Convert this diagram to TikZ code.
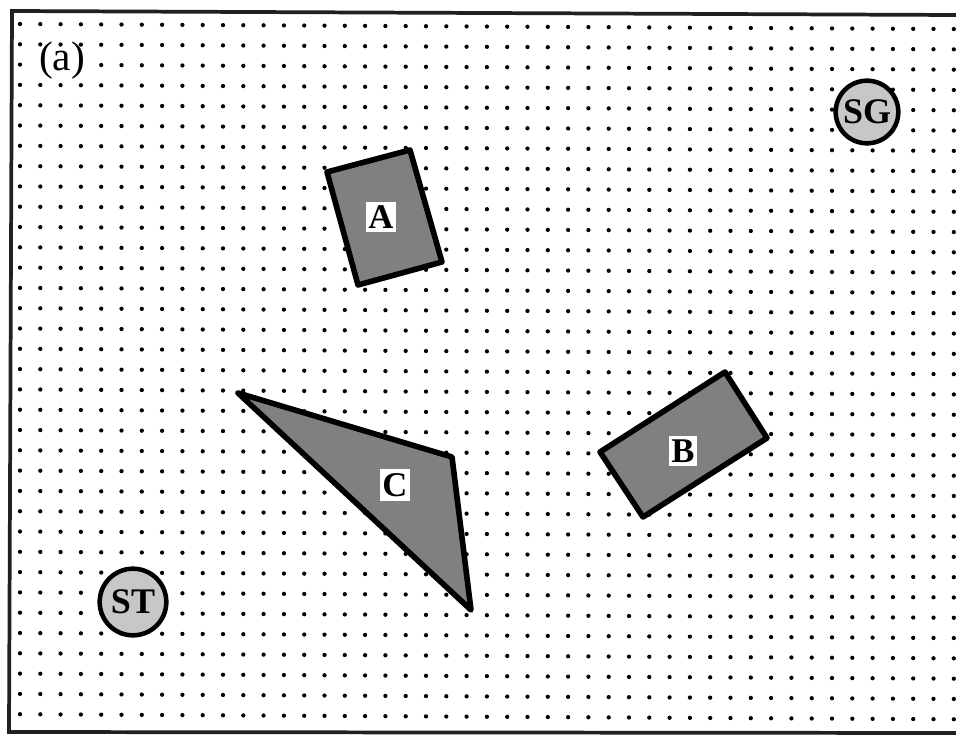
\documentclass[tikz,border=0pt]{standalone}
\usepackage{fontspec}
\setmainfont{Liberation Serif}
\begin{document}
\begin{tikzpicture}[x=0.75pt,y=-0.75pt,
  obst/.style={draw=black,line width=4.2pt,fill=black!50,line join=round},
  lbl/.style={fill=white,font=\bfseries\fontsize{26}{26}\selectfont,inner xsep=1.5pt,inner ysep=3pt},
  endpt/.style={circle,draw=black,line width=3.4pt,fill=black!22,inner sep=0pt,font=\bfseries\fontsize{27}{27}\selectfont},
  frame/.style={line width=2.8pt,draw=gray!25!black}]
\useasboundingbox (0,0) rectangle (956,735);
\fill[white] (0,0) rectangle (956,735);
% dot grid
\foreach \i in {0,...,46}{
  \foreach \j in {0,...,34}{
    \fill ({20+20.3*\i},{24+20.3*\j+0.11*\i}) circle (1.6pt);
  }
}
% frame
\coordinate (ftr) at (956,15);
\coordinate (ftl) at (12,11);
\coordinate (fbl) at (9,732);
\coordinate (fbr) at (956,733);
\draw[frame] (ftr) -- (ftl) -- (fbl) -- (fbr);
% obstacle A
\coordinate (a1) at (327,172);
\coordinate (a2) at (410,150);
\coordinate (a3) at (442,262);
\coordinate (a4) at (358,285);
\draw[obst] (a1) -- (a2) -- (a3) -- (a4) -- cycle;
\node[lbl] (A) at (381,217) {A};
% obstacle B
\coordinate (b1) at (600,452);
\coordinate (b2) at (725,372);
\coordinate (b3) at (767,438);
\coordinate (b4) at (643,517);
\draw[obst] (b1) -- (b2) -- (b3) -- (b4) -- cycle;
\node[lbl] (B) at (683,451) {B};
% obstacle C
\coordinate (c1) at (238,393);
\coordinate (c2) at (452,457);
\coordinate (c3) at (471,610);
\draw[obst] (c1) -- (c2) -- (c3) -- cycle;
\node[lbl] (C) at (395,485) {C};
% start and goal
\node[endpt,minimum size=47pt] (SG) at (867,112) {SG};
\node[endpt,minimum size=50pt] (ST) at (133,602) {ST};
% label
\fill[white] (34,51) rectangle (92,74);
\node[font=\fontsize{31}{31}\selectfont,inner sep=0pt] (lab) at (62,61) {(a)};
\end{tikzpicture}
\end{document}
